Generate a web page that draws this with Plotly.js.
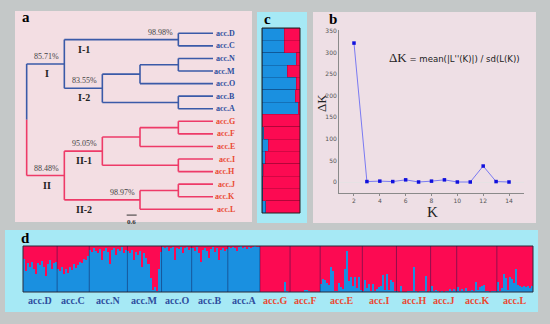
<!DOCTYPE html>
<html><head><meta charset="utf-8">
<script src="https://cdn.plot.ly/plotly-3.0.1.min.js"></script>
<style>html,body{margin:0;padding:0;background:#c4c8c8}#chart{width:550px;height:324px}</style>
</head><body><div id="chart"></div>
<script>
// ---------------- DATA ----------------
// accession order (dendrogram leaves, panel c rows, panel d groups)
const leaves = ['acc.D','acc.C','acc.N','acc.M','acc.O','acc.B','acc.A','acc.G','acc.F','acc.E','acc.I','acc.H','acc.J','acc.K','acc.L'];
// dendrogram internal nodes
const nodeIds     = ['root','I','II','I-1','I-2','NMO','NM','BA','II-1','GFE','GF','IH','II-2','JK'];
const nodeParents = [null,'root','root','I','I','I-2','NMO','I-2','II','II-1','GFE','II-1','II','II-2'];
const nodeDepths  = [0, 2.26, 2.26, 9.10, 4.54, 6.80, 9.10, 9.10, 4.54, 6.80, 9.10, 9.10, 6.80, 9.10];
const leafParents = ['I-1','I-1','NM','NM','NMO','BA','BA','GF','GF','GFE','IH','IH','JK','JK','II-2'];
const leafDepth = 11.18;
const cladeNodes = ['I','I-1','I-2','II','II-1','II-2'];
const bootstrap  = ['85.71%','98.98%','83.55%','88.48%','95.05%','98.97%'];
const scaleBar = 0.6;

// panel b: Evanno delta K
const kValues = [2,3,4,5,6,7,8,9,10,11,12,13,14];
const deltaK  = [322,1,2,1,5,0,2,5,0,0,37,1,0];
const bYTicks = [0,50,100,150,200,250,300,350];
const bXTicks = [2,4,6,8,10,12,14];

// panel c: mean membership (blue cluster) per accession
const cBlue = [0.59,0.59,0.90,0.66,0.90,0.88,0.95,0.0,0.04,0.16,0.09,0.03,0.02,0.02,0.10];

// panel d: individual membership (blue cluster) per accession
const dAccD = [0.72,0.45,0.62,0.55,0.66,0.5,0.4,0.63,0.58,0.68,0.55,0.35,0.6,0.7,0.5,0.62,0.65];
const dAccC = [0.5,0.45,0.55,0.4,0.5,0.42,0.55,0.48,0.6,0.52,0.58,0.66,0.62,0.72,0.7,0.78];
const dAccN = [0.92,0.88,0.95,0.9,0.85,0.93,0.7,0.9,0.96,0.88,0.6,0.92,0.95,0.8,0.93,0.9,0.97,0.85,0.92];
const dAccM = [0.9,0.85,0.92,0.7,0.88,0.8,0.9,0.55,0.85,0.75,0.6,0.3,0.05,0.1,0.02,0.5,0.88];
const dAccO = [0.97,0.95,0.98,0.9,0.96,0.98,0.7,0.95,0.93,0.97,0.85,0.96,0.98,0.92,0.95];
const dAccB = [0.95,0.9,0.97,0.85,0.65,0.92,0.96,0.9,0.75,0.93,0.97,0.88,0.95,0.7,0.92,0.96,0.9,0.94];
const dAccA = [0.97,0.95,0.98,0.96,0.9,0.97,0.99,0.95,0.97,0.93,0.98,0.96,0.97,0.99,0.98,0.97];
const dAccG = [0,0,0,0,0,0,0,0,0,0,0,0,0.22,0.02,0];
const dAccF = [0,0,0,0,0,0,0,0.04,0.04,0.02,0,0,0,0,0];
const dAccE = [0.18,0.28,0.26,0.2,0.15,0.55,0.45,0.03,0.02,0.2,0.1,0.06,0.5,0.9,0.25,0.32,0.12,0.33,0.08,0.33,0.05];
const dAccI = [0.02,0.27,0.08,0.17,0.03,0.18,0.02,0.06,0.1,0.12,0.37,0.05,0.4,0.04,0.26,0.21,0.02];
const dAccH = [0.02,0,0.13,0.01,0,0.02,0.03,0.02,0.55,0.02,0.01,0.02,0.03,0.02,0.35,0.01,0.02];
const dAccJ = [0.12,0.03,0.05,0.02,0.01,0.02,0.01,0.02,0.03,0.07,0.02,0.06,0.02];
const dAccK = [0.1,0.03,0.06,0.02,0.08,0.03,0.02,0.04,0.03,0.22,0.05,0.1,0.12,0.15,0.03,0.02,0.01,0.02,0.03,0.02];
const dAccL = [0.22,0.02,0.08,0.4,0.3,0.05,0.32,0.28,0.2,0.5,0.15,0.12,0.1,0.12,0.1,0.12,0.08,0.12];
const dGroups = [dAccD,dAccC,dAccN,dAccM,dAccO,dAccB,dAccA,dAccG,dAccF,dAccE,dAccI,dAccH,dAccJ,dAccK,dAccL];

// ---------------- STYLE ----------------
const W = 550, H = 324;
const px = v => v / W, py = v => 1 - v / H;
const BLUE_BR = '#3a5aa8', RED_BR = '#ee3a68';
const BLUE_TX = '#2e4e9e', RED_TX = '#ea4a32';
const Q_BLUE = '#1a90e0', Q_RED = '#fc0a52';
const SERIF = 'Liberation Serif, Times New Roman, serif';
const PINK_A = '#f3dee3', PINK_B = '#eedfe5', CYAN = '#a6e9f5';

// ---------------- DENDROGRAM ----------------
const depth = {}, parentOf = {}, yPos = {}, kids = {};
nodeIds.forEach((n,i) => { depth[n] = nodeDepths[i]; parentOf[n] = nodeParents[i]; kids[n] = []; });
leaves.forEach((l,i) => { depth[l] = leafDepth; parentOf[l] = leafParents[i]; yPos[l] = i; });
[...nodeIds, ...leaves].forEach(n => { if (parentOf[n]) kids[parentOf[n]].push(n); });
function getY(n){ if (n in yPos) return yPos[n]; const ys = kids[n].map(getY); yPos[n] = (Math.min(...ys)+Math.max(...ys))/2; return yPos[n]; }
getY('root');
function clade(n){ let c = n; while (parentOf[c] && parentOf[c] !== 'root') c = parentOf[c]; return c; }
const seg = {I:{x:[],y:[]}, II:{x:[],y:[]}};
[...nodeIds, ...leaves].forEach(n => {
  if (n === 'root') return;
  const s = seg[clade(n)];
  s.x.push(depth[parentOf[n]], depth[n], null); s.y.push(yPos[n], yPos[n], null);
  if (kids[n] && kids[n].length) {
    const ys = kids[n].map(k => yPos[k]);
    s.x.push(depth[n], depth[n], null); s.y.push(Math.min(...ys), Math.max(...ys), null);
  }
});
const rootMid = (yPos['I'] + yPos['II'])/2;
seg.I.x.push(0,0,null); seg.I.y.push(yPos['I'], rootMid, null);
seg.II.x.push(0,0,null); seg.II.y.push(rootMid, yPos['II'], null);

const traces = [];
traces.push({type:'scatter', mode:'lines', x:seg.I.x, y:seg.I.y, line:{color:BLUE_BR, width:1.6}, xaxis:'x', yaxis:'y', hoverinfo:'skip', showlegend:false});
traces.push({type:'scatter', mode:'lines', x:seg.II.x, y:seg.II.y, line:{color:RED_BR, width:1.6}, xaxis:'x', yaxis:'y', hoverinfo:'skip', showlegend:false});
// scale bar
traces.push({type:'scatter', mode:'lines', x:[6.0, 6.0+scaleBar], y:[14.46,14.46], line:{color:'#333', width:1}, xaxis:'x', yaxis:'y', hoverinfo:'skip', showlegend:false});

const annotations = [];
leaves.forEach((l,i) => annotations.push({xref:'x', yref:'y', x:leafDepth, y:i, xanchor:'right', yanchor:'middle', xshift:24, showarrow:false,
  text:'<b>'+l+'</b>', font:{family:SERIF, size:8, color: i < 7 ? BLUE_TX : RED_TX}}));
cladeNodes.forEach((n,i) => {
  annotations.push({xref:'x', yref:'y', x:depth[n], y:yPos[n], xanchor:'right', yanchor:'bottom', xshift:-3, yshift:1, showarrow:false,
    text:bootstrap[i], font:{family:SERIF, size:8, color:'#444'}});
  annotations.push({xref:'x', yref:'y', x:depth[parentOf[n]] + 1.2, y:yPos[n], xanchor:'center', yanchor:'top', yshift:-2, showarrow:false,
    text:'<b>'+n+'</b>', font:{family:SERIF, size:10, color:'#222'}});
});
annotations.push({xref:'x', yref:'y', x:6.0+scaleBar/2, y:14.46, xanchor:'center', yanchor:'top', yshift:-1, showarrow:false,
  text:'<b>'+scaleBar+'</b>', font:{family:SERIF, size:7, color:'#333'}});

// ---------------- PANEL B ----------------
traces.push({type:'scatter', mode:'lines+markers', x:kValues, y:deltaK, xaxis:'x2', yaxis:'y2',
  line:{color:'#7a7af2', width:1}, marker:{color:'#1010dd', size:3.5, symbol:'square'}, hoverinfo:'skip', showlegend:false});

// ---------------- PANEL C ----------------
traces.push({type:'bar', orientation:'h', y:leaves, x:cBlue, xaxis:'x3', yaxis:'y3', width:1,
  marker:{color:Q_BLUE, line:{color:'rgba(0,0,40,0.35)', width:0.6}}, hoverinfo:'skip', showlegend:false});
traces.push({type:'bar', orientation:'h', y:leaves, x:cBlue.map(v => 1 - v), xaxis:'x3', yaxis:'y3', width:1,
  marker:{color:Q_RED, line:{color:'rgba(60,0,20,0.35)', width:0.6}}, hoverinfo:'skip', showlegend:false});

// ---------------- PANEL D ----------------
const dBlue = [].concat(...dGroups);
const dIdx = dBlue.map((_,i) => i);
traces.push({type:'bar', x:dIdx, y:dBlue, xaxis:'x4', yaxis:'y4', width:1, marker:{color:Q_BLUE, line:{width:0}}, hoverinfo:'skip', showlegend:false});
traces.push({type:'bar', x:dIdx, y:dBlue.map(v => 1 - v), xaxis:'x4', yaxis:'y4', width:1, marker:{color:Q_RED, line:{width:0}}, hoverinfo:'skip', showlegend:false});

const shapes = [
  {type:'rect', xref:'paper', yref:'paper', x0:px(15), x1:px(252), y0:py(222), y1:py(11), fillcolor:PINK_A, line:{width:0}, layer:'below'},
  {type:'rect', xref:'paper', yref:'paper', x0:px(257), x1:px(307), y0:py(223), y1:py(12), fillcolor:CYAN, line:{width:0}, layer:'below'},
  {type:'rect', xref:'paper', yref:'paper', x0:px(313), x1:px(536), y0:py(223), y1:py(12), fillcolor:PINK_B, line:{width:0}, layer:'below'},
  {type:'rect', xref:'paper', yref:'paper', x0:px(5), x1:px(538), y0:py(312), y1:py(230), fillcolor:CYAN, line:{width:0}, layer:'below'},
  {type:'rect', xref:'x3 domain', yref:'y3 domain', x0:0, x1:1, y0:0, y1:1, line:{color:'#222', width:1}},
  {type:'rect', xref:'x4 domain', yref:'y4 domain', x0:0, x1:1, y0:0, y1:1, line:{color:'#2a2a3a', width:1}}
];
let cum = 0;
dGroups.forEach((g,i) => {
  const start = cum; cum += g.length;
  if (i < dGroups.length - 1) shapes.push({type:'line', xref:'x4', yref:'y4 domain', x0:cum-0.5, x1:cum-0.5, y0:0, y1:1, line:{color:'rgba(20,20,70,0.45)', width:1}});
  annotations.push({xref:'x4', yref:'paper', x:(start + cum - 1)/2, y:py(300), xanchor:'center', yanchor:'middle', showarrow:false,
    text:'<b>'+leaves[i]+'</b>', font:{family:SERIF, size:10, color: i < 7 ? BLUE_TX : RED_TX}});
});

// panel letters & panel b texts
[['a',20,17],['c',262,18.5],['b',327,19],['d',19,237.5]].forEach(([t,x,y]) =>
  annotations.push({xref:'paper', yref:'paper', x:px(x), y:py(y), xanchor:'left', yanchor:'middle', showarrow:false,
    text:'<b>'+t+'</b>', font:{family:SERIF, size:15, color:'#000'}}));
annotations.push({xref:'paper', yref:'paper', x:px(321), y:py(103), textangle:-90, xanchor:'center', yanchor:'middle', showarrow:false,
  text:'ΔK', font:{family:SERIF, size:13, color:'#222'}});
annotations.push({xref:'paper', yref:'paper', x:px(432), y:py(212), xanchor:'center', yanchor:'middle', showarrow:false,
  text:'K', font:{family:SERIF, size:15, color:'#222'}});
annotations.push({xref:'paper', yref:'paper', x:px(454), y:py(57), xanchor:'center', yanchor:'middle', showarrow:false,
  text:'<span style="font-family:Liberation Serif;font-size:13px">ΔK</span> = mean(|L\'\'(K)|) / sd(L(K))',
  font:{family:'Liberation Sans Narrow, DejaVu Sans Condensed, Arial Narrow, sans-serif', size:9.5, color:'#222'}});

const hidden = {visible:false, fixedrange:true};
const layout = {
  width:W, height:H, margin:{l:0,r:0,t:0,b:0}, paper_bgcolor:'#c4c8c8', plot_bgcolor:'rgba(0,0,0,0)',
  showlegend:false, barmode:'stack', bargap:0,
  xaxis: Object.assign({domain:[px(15), px(252)], range:[-0.70, 13.52]}, hidden),
  yaxis: Object.assign({domain:[py(222), py(11)], range:[15.01, -1.774]}, hidden),
  xaxis2: {domain:[px(339), px(524)], range:[0.84, 15.16], showline:true, linecolor:'#8a8a8a', linewidth:1, showgrid:false, zeroline:false,
    tickvals:bXTicks, ticks:'outside', ticklen:2, tickcolor:'#8a8a8a', tickfont:{family:'DejaVu Sans', size:6, color:'#555'}, anchor:'y2'},
  yaxis2: {domain:[py(193), py(30)], range:[-25.5, 352.3], showline:true, linecolor:'#8a8a8a', linewidth:1, showgrid:false,
    zeroline:true, zerolinecolor:'#e6e2e4', zerolinewidth:1, tickvals:bYTicks, ticks:'', tickfont:{family:'DejaVu Sans', size:6, color:'#555'}, anchor:'x2'},
  xaxis3: Object.assign({domain:[px(262), px(300)], range:[0,1], anchor:'y3'}, hidden),
  yaxis3: Object.assign({domain:[py(213), py(28)], autorange:'reversed', type:'category', anchor:'x3'}, hidden),
  xaxis4: Object.assign({domain:[px(23), px(533)], range:[-0.5, dBlue.length - 0.5], anchor:'y4'}, hidden),
  yaxis4: Object.assign({domain:[py(292), py(246)], range:[0,1], anchor:'x4'}, hidden),
  shapes: shapes, annotations: annotations
};
Plotly.newPlot('chart', traces, layout, {staticPlot:true, displayModeBar:false});
</script></body></html>
